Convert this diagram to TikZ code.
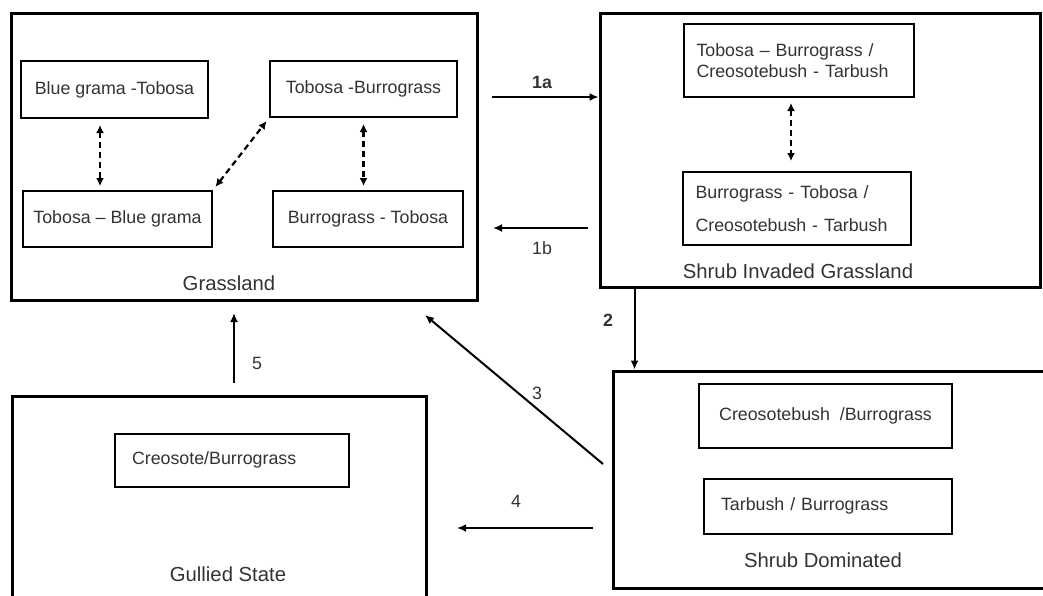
\documentclass[tikz,border=0pt]{standalone}
\usepackage{fontspec}
\setmainfont{Liberation Sans}
\definecolor{TextGray}{HTML}{333333}
\usetikzlibrary{arrows.meta,calc}

\begin{document}
\begin{tikzpicture}[
  x=1pt,y=-1pt,
  every node/.style={font=\fontsize{17.8}{21}\selectfont,text=TextGray,align=center},
  state/.style={draw,line width=3pt,inner sep=0pt},
  comm/.style={draw,line width=2pt,inner sep=0pt},
  lbl/.style={font=\fontsize{20.3}{24}\selectfont},
  bnum/.style={font=\fontsize{17.8}{21}\selectfont\bfseries},
  arr/.style={-{Latex[length=9pt,width=8pt]},line width=2pt},
  darr/.style={{Latex[length=8pt,width=8pt]}-{Latex[length=8pt,width=8pt]},line width=2.2pt,dash pattern=on 6pt off 4pt}
]
\path[use as bounding box,fill=white] (0,0) rectangle (1043,595);
\node[state,minimum width=466pt,minimum height=287pt] (grass) at (244,156.5) {};
\node[state,minimum width=440pt,minimum height=274pt] (sig) at (820,150) {};
\node[state,minimum width=432pt,minimum height=217pt] (sdom) at (829,479.5) {};
\node[state,minimum width=414pt,minimum height=202pt] (gully) at (219,497) {};
\node[comm,minimum width=187pt,minimum height=57pt] (bgt) at (114.5,89.5) {Blue grama -Tobosa};
\node[comm,minimum width=187pt,minimum height=56pt] (tbu) at (363.5,89) {Tobosa -Burrograss};
\node[comm,minimum width=189pt,minimum height=56pt] (tbg) at (117.5,219) {Tobosa -- Blue grama};
\node[comm,minimum width=190pt,minimum height=56pt] (bto) at (368,219) {Burrograss - Tobosa};
\node[comm,minimum height=73pt,text width=205pt,inner xsep=12.5pt,align=left] (sig1) at (799,60.5) {Tobosa -- Burrograss /\\Creosotebush - Tarbush};
\node[comm,minimum height=73pt,text width=203pt,inner xsep=12.5pt,align=left] (sig2) at (797,208.5) {Burrograss - Tobosa /\\[12pt]Creosotebush - Tarbush};
\node[comm,minimum width=253pt,minimum height=64pt] (sd1) at (825.5,416) {Creosotebush~ /Burrograss};
\node[comm,minimum height=55pt,text width=214pt,inner xsep=17pt,align=left] (sd2) at (828,506.5) {\raisebox{4pt}{Tarbush / Burrograss}};
\node[comm,minimum height=53pt,text width=200pt,inner xsep=17pt,align=left] (cb) at (232,460.5) {\raisebox{5pt}{Creosote/Burrograss}};
\node[lbl] (grassLbl) at (229,283) {Grassland};
\node[lbl] (sigLbl) at (798,271) {Shrub Invaded Grassland};
\node[lbl] (sdomLbl) at (823,560) {Shrub Dominated};
\node[lbl] (gullyLbl) at (228,574) {Gullied State};
\node[bnum] (t1a) at (542,82) {1a};
\node (t1b) at (542,248) {1b};
\node[bnum] (t2) at (608,320) {2};
\node (t3) at (537,393) {3};
\node (t4) at (516,501) {4};
\node (t5) at (257,363) {5};
\coordinate (a1a) at (492,97);
\coordinate (a1b) at (588,228);
\coordinate (b1b) at (493,228);
\coordinate (a3) at (603,464);
\coordinate (b3) at (425,315);
\coordinate (a4) at (593,528);
\coordinate (b4) at (457,528);
\coordinate (a5) at (234,383);
\coordinate (b5) at (234,313);
\draw[arr] (a1a) -- (a1a -| sig.west);
\draw[arr] (a1b) -- (b1b);
\draw[arr] ([xshift=36pt]sig.south west) -- ([xshift=36pt]sig.south west |- sdom.north);
\draw[arr] (a3) -- (b3);
\draw[arr] (a4) -- (b4);
\draw[arr] (a5) -- (b5);
\draw[darr,shorten <=6pt,shorten >=4pt] ([xshift=-14.5pt]bgt.south) -- ([xshift=-14.5pt]bgt.south |- tbg.north);
\draw[darr,shorten <=6pt,shorten >=4pt] (tbu.south) -- (tbu.south |- bto.north);
\draw[darr,shorten <=4pt,shorten >=4pt] (tbg.north east) -- (tbu.south west);
\draw[darr,shorten <=5pt,shorten >=10pt] ([xshift=-8pt]sig1.south) -- ([xshift=-8pt]sig1.south |- sig2.north);
\end{tikzpicture}
\end{document}
